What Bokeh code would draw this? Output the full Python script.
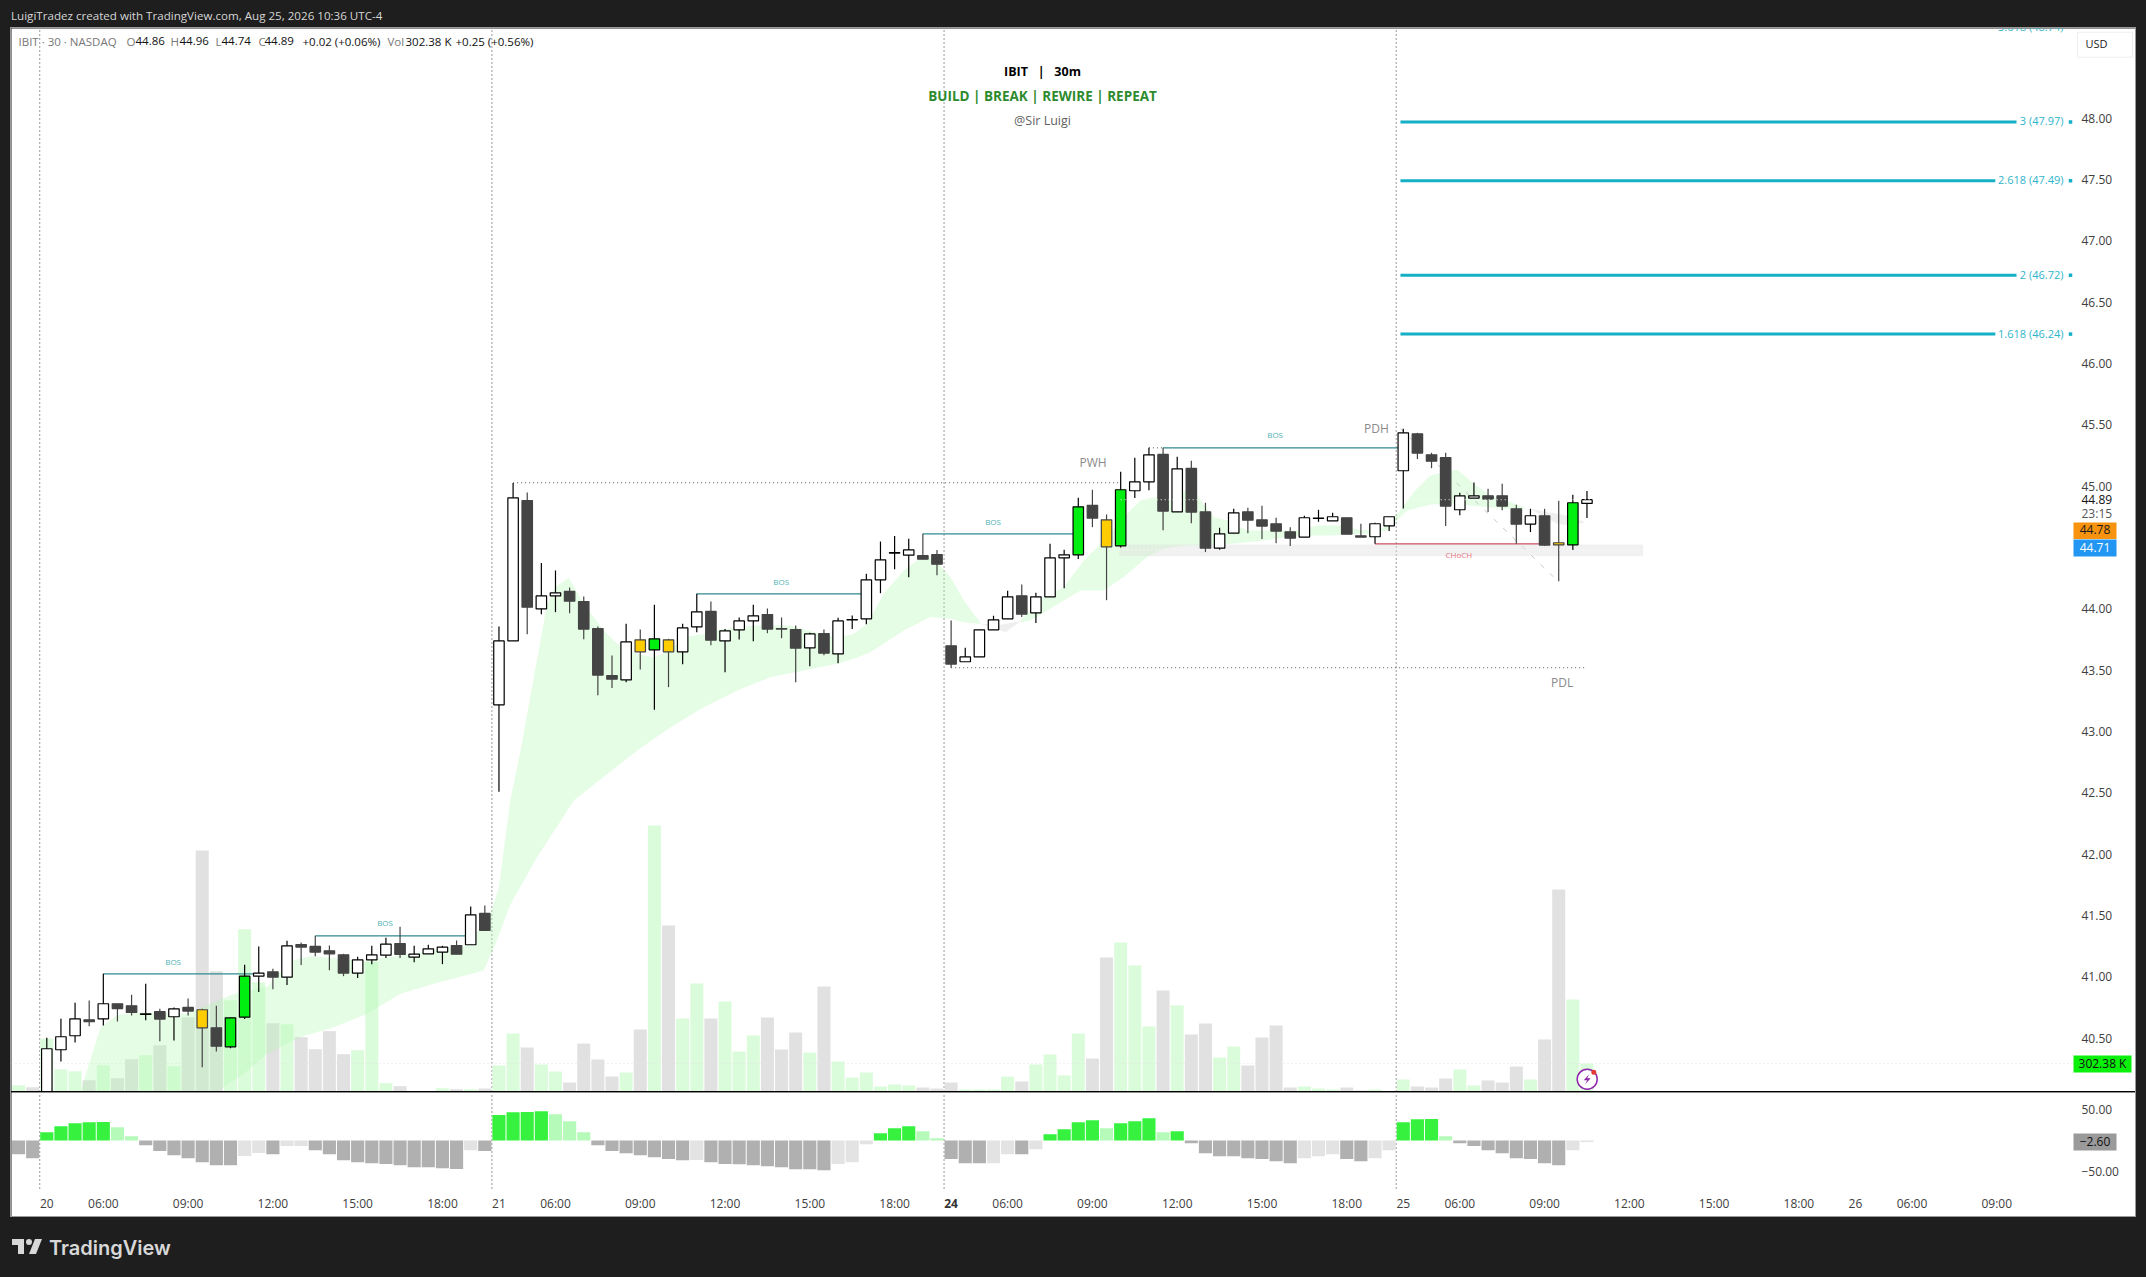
from bokeh.plotting import figure
from bokeh.layouts import column, row
from bokeh.models import ColumnDataSource, Range1d, FixedTicker, Div
from bokeh.core.properties import value
from bokeh.embed import file_html
from bokeh.resources import INLINE

FONT = "Open Sans"

# ---------------------------------------------------------------- data
bar_index = list(range(-2, 110))
opens = [39.6, 39.7, 39.85, 40.406, 40.520, 40.650, 40.658, 40.781, 40.764, 40.694, 40.718, 40.675, 40.751, 40.732,
         40.585, 40.430, 40.672, 41.006, 41.041, 40.998, 41.264, 41.248, 41.213, 41.180, 41.031, 41.139, 41.177, 41.272,
         41.161, 41.188, 41.202, 41.256, 41.262, 41.517,
         43.218, 43.739, 44.883, 44.000, 44.106, 44.142, 44.060, 43.840, 43.457, 43.421, 43.748, 43.666, 43.748, 43.650,
         43.854, 43.979, 43.739, 43.829, 43.902, 43.954, 43.840, 43.832, 43.682, 43.799, 43.633, 43.910, 43.919, 44.237,
         44.455, 44.438, 44.435, 44.443,
         43.699, 43.569, 43.609, 43.829, 43.919, 44.107, 43.968, 44.098, 44.416, 44.441, 44.843, 44.726, 44.514, 44.963,
         45.036, 45.259, 44.791, 45.145, 44.791, 44.495, 44.617, 44.791, 44.726, 44.694, 44.628, 44.585, 44.738, 44.718,
         44.743, 44.596, 44.588, 44.677,
         45.126, 45.427, 45.256, 45.234, 44.808, 44.903, 44.922, 44.922, 44.816, 44.691, 44.759, 44.539, 44.522, 44.86]
highs = [39.75, 39.75, 40.503, 40.658, 40.789, 40.808, 41.025, 40.781, 40.854, 40.944, 40.740, 40.751, 40.824, 40.740,
         40.764, 40.666, 41.098, 41.248, 41.066, 41.294, 41.281, 41.335, 41.256, 41.188, 41.164, 41.253, 41.319, 41.408,
         41.253, 41.262, 41.253, 41.297, 41.574, 41.582,
         43.856, 45.027, 44.949, 44.375, 44.313, 44.174, 44.101, 43.856, 43.620, 43.878, 43.832, 44.033, 43.756, 43.878,
         44.123, 44.060, 43.837, 43.930, 44.033, 44.003, 43.930, 43.864, 43.805, 43.832, 43.927, 43.946, 44.286, 44.549,
         44.595, 44.571, 44.612, 44.481,
         43.906, 43.683, 43.829, 43.944, 44.147, 44.199, 44.131, 44.531, 44.482, 44.906, 44.971, 44.770, 45.118, 45.232,
         45.313, 45.313, 45.240, 45.207, 44.865, 44.661, 44.816, 44.824, 44.840, 44.743, 44.666, 44.759, 44.808, 44.783,
         44.743, 44.694, 44.702, 44.751,
         45.468, 45.435, 45.272, 45.272, 44.946, 45.031, 44.979, 45.020, 44.849, 44.816, 44.816, 44.881, 44.930, 44.96]
lows = [39.5, 39.55, 39.8, 40.310, 40.465, 40.598, 40.604, 40.637, 40.685, 40.647, 40.476, 40.482, 40.685, 40.264,
        40.392, 40.419, 40.656, 40.876, 40.900, 40.933, 41.096, 41.169, 41.055, 41.006, 40.990, 41.104, 41.153, 41.153,
        41.120, 41.188, 41.104, 41.185, 41.262, 41.378,
        42.51, 43.739, 43.794, 43.957, 43.973, 43.965, 43.753, 43.296, 43.354, 43.402, 43.506, 43.177, 43.362, 43.549,
        43.810, 43.704, 43.484, 43.750, 43.737, 43.802, 43.761, 43.402, 43.533, 43.623, 43.557, 43.835, 43.875, 44.128,
        44.324, 44.258, 44.405, 44.275,
        43.520, 43.569, 43.609, 43.829, 43.919, 43.933, 43.884, 44.098, 44.169, 44.406, 44.666, 44.071, 44.501, 44.903,
        44.968, 44.642, 44.791, 44.699, 44.463, 44.479, 44.617, 44.617, 44.569, 44.536, 44.512, 44.585, 44.710, 44.718,
        44.609, 44.585, 44.531, 44.634,
        44.819, 45.221, 45.147, 44.675, 44.764, 44.903, 44.789, 44.805, 44.531, 44.626, 44.514, 44.226, 44.479, 44.74]
closes = [39.7, 39.6, 40.414, 40.512, 40.658, 40.636, 40.781, 40.742, 40.710, 40.699, 40.656, 40.740, 40.721, 40.585,
          40.435, 40.666, 41.006, 41.031, 40.998, 41.253, 41.243, 41.202, 41.188, 41.031, 41.139, 41.180, 41.267, 41.183,
          41.185, 41.229, 41.242, 41.185, 41.506, 41.378,
          43.739, 44.905, 44.014, 44.106, 44.131, 44.063, 43.835, 43.460, 43.427, 43.731, 43.650, 43.756, 43.650, 43.845,
          43.976, 43.745, 43.821, 43.902, 43.943, 43.835, 43.835, 43.680, 43.796, 43.639, 43.902, 43.913, 44.237, 44.400,
          44.458, 44.481, 44.405, 44.364,
          43.550, 43.609, 43.829, 43.911, 44.098, 43.957, 44.098, 44.416, 44.441, 44.832, 44.740, 44.506, 44.971, 45.036,
          45.256, 44.797, 45.142, 44.789, 44.495, 44.612, 44.783, 44.723, 44.675, 44.634, 44.577, 44.743, 44.740, 44.751,
          44.609, 44.585, 44.694, 44.751,
          45.435, 45.270, 45.204, 44.838, 44.922, 44.922, 44.895, 44.838, 44.691, 44.759, 44.520, 44.522, 44.865, 44.89]
green_bars = [13, 14, 43, 73, 76, 108]
yellow_bars = [11, 42, 44, 75, 107]

volumes_k = [68, 47, 569, 241, 220, 122, 284, 144, 349, 392, 500, 274, 803, 2603, 1300, 986, 1753, 1181, 738, 727, 587,
             457, 652, 403, 446, 1397, 90, 58, 4, 4, 36, 25, 25, 32,
             281, 626, 475, 292, 216, 97, 518, 346, 162, 205, 670, 2873, 1793, 788, 1166, 788, 972, 432, 605, 799, 454,
             637, 421, 1134, 324, 151, 205, 54, 76, 65, 43, 32,
             97, 22, 22, 22, 162, 108, 292, 400, 173, 626, 356, 1447, 1609, 1361, 702, 1091, 929, 616, 734, 367, 486,
             281, 583, 713, 43, 54, 32, 22, 43, 11, 22, 4,
             130, 54, 43, 140, 238, 65, 119, 97, 270, 130, 562, 2182, 994, 302.38]

hist_values = [-22, -28.5, 13.4, 23, 28, 29.6, 29.7, 21.5, 7, -7.5, -17, -23.7, -28.5, -35, -39.8, -39.9, -25, -20, -22,
               -9, -8.9, -15.6, -22, -31.7, -35, -36.6, -38, -39.8, -43, -43.1, -44.6, -46, -15.6, -17,
               41, 45.7, 45.8, 47.3, 42.5, 31, 13.4, -7.5, -17, -20.4, -23.7, -26.9, -30, -31.7, -31.6, -35, -38, -38.2,
               -39.8, -41.4, -43, -46.2, -46.3, -47.8, -38, -35, -6, 11.8, 19.9, 23, 15, 3.8,
               -30, -36.6, -36.7, -36.6, -22, -22.1, -14, 10.2, 18.3, 29.6, 32.8, 19.9, 28, 31.2, 36, 13.4, 15, -4.3,
               -20.4, -25.3, -25.4, -28.5, -30, -33.3, -36.6, -28.5, -25.3, -22, -30, -33.3, -28.5, -15.6,
               29.6, 34.4, 34.5, 7, -4.3, -9, -15.6, -20.4, -28.5, -30, -36.6, -39.8, -15.6, -2.6]

cloud_up_x = [2.38, 3.8, 4.98, 6.63, 9.93, 13.23, 15.59, 17.24, 18.66, 22.43, 27.4, 29.74, 31.4, 32, 32.8, 33.53, 35.41,
              35.96, 36.95, 38.0, 39.42, 40.37, 41.78, 42.96, 43.9, 45.08, 46.5, 47.9, 50.04, 52.63, 54.75, 55.93, 57.11,
              58.06, 59.24, 60.65, 62.07, 63.0, 63.95, 64.9, 65.96, 66.08]
cloud_up_p = [40.063, 40.59, 40.69, 40.71, 40.70, 40.86, 40.92, 41.13, 41.17, 41.13, 41.215, 41.256, 41.514, 41.73,
              42.438, 42.845, 44.04, 44.177, 44.253, 44.04, 43.824, 43.715, 43.633, 43.606, 43.647, 43.769, 43.796,
              43.837, 43.864, 43.864, 43.796, 43.769, 43.796, 43.878, 44.123, 44.313, 44.435, 44.38, 44.259, 44.069,
              43.906, 43.878]
cloud_lo_x = [12.05, 13.94, 15.59, 17.95, 20.31, 22.67, 25.03, 27.4, 30.92, 31.76, 32.82, 34.7, 37.3, 41.78, 44.14, 46.5,
              48.86, 51.22, 53.58, 55.93, 57.11, 58.29, 60.65, 62.54, 63.95, 64.9, 65.96, 66.08]
cloud_lo_p = [40.063, 40.21, 40.373, 40.509, 40.59, 40.699, 40.862, 40.944, 41.052, 41.27, 41.595, 41.975, 42.438, 42.845,
              43.036, 43.199, 43.334, 43.443, 43.498, 43.552, 43.593, 43.647, 43.824, 43.933, 43.919, 43.892, 43.878,
              43.878]
cloud2_up_x = [68.91, 69.6, 70.56, 71.97, 73.39, 74.8, 76.22, 77.4, 78.34, 79.52, 80.94, 82.59, 83.53, 84.95, 86.83,
               88.48, 89.9, 91.31, 93.2, 94.62, 95.56, 96.75, 97.93, 99.81, 100.99, 102.17, 103.35, 104.77]
cloud2_up_p = [43.906, 43.987, 44.096, 44.177, 44.395, 44.558, 44.748, 44.884, 44.911, 44.884, 44.993, 44.748, 44.721,
               44.639, 44.639, 44.639, 44.68, 44.68, 44.639, 44.666, 44.775, 44.952, 45.088, 45.137, 45.02, 44.925,
               44.884, 44.816]
cloud2_lo_x = [68.91, 69.6, 70.8, 71.97, 73.15, 74.8, 76.22, 77.87, 79.05, 80.47, 82.59, 84.95, 86.13, 88.48, 90.84, 93.2,
               94.85, 95.56, 96.28, 97.93, 99.58, 101.47, 103.35, 104.77]
cloud2_lo_p = [43.892, 43.906, 43.987, 44.069, 44.15, 44.15, 44.259, 44.422, 44.49, 44.517, 44.517, 44.544, 44.558, 44.598,
               44.598, 44.612, 44.639, 44.721, 44.802, 44.85, 44.857, 44.835, 44.816, 44.816]
grey_cloud_x = [[66.08, 67.5, 68.91, 67.85], [105.0, 106.2, 107.6, 108.9, 107.83, 106.9, 105.95]]
grey_cloud_p = [[43.878, 43.87, 43.9, 43.81], [44.816, 44.789, 44.762, 44.707, 44.68, 44.694, 44.748]]

session_bars = [-0.5, 31.5, 63.5, 95.5]

bos_x0 = [4, 19, 46, 62, 79]
bos_x1 = [15, 30, 58, 73, 96]
bos_p = [41.025, 41.335, 44.123, 44.612, 45.313]
bos_label_x = [8.94, 23.94, 51.97, 66.97, 86.93]
bos_label_p = [41.12, 41.433, 44.218, 44.707, 45.411]

fib_levels = ["3.618", "3", "2.618", "2", "1.618"]
fib_prices = [48.74, 47.97, 47.49, 46.72, 46.24]
fib_x1 = [139.4, 137.9, 139.4, 137.9]
fib_x0 = 95.8

level_names = ["PWH", "PDH", "PDL"]
level_x = [74.05, 94.1, 107.24]
level_p = [45.183, 45.465, 43.39]
pwh_price, pdl_price = 45.028, 43.52
zone_low, zone_high = 44.43, 44.525
last_price = 44.89
choch_price = 44.53

price_ticks = [40.5, 41.0, 41.5, 42.0, 42.5, 43.0, 43.5, 44.0, 45.0, 45.5, 46.0, 46.5, 47.0, 47.5, 48.0]
hist_ticks = [50, -50]
time_ticks = {0: "20", 4: "06:00", 10: "09:00", 16: "12:00", 22: "15:00", 28: "18:00", 32: "21", 36: "06:00",
              42: "09:00", 48: "12:00", 54: "15:00", 60: "18:00", 68: "06:00", 74: "09:00", 80: "12:00",
              86: "15:00", 92: "18:00", 96: "25", 100: "06:00", 106: "09:00", 112: "12:00", 118: "15:00",
              124: "18:00", 128: "26", 132: "06:00", 138: "09:00"}

# ---------------------------------------------------------------- scales: page pixels <-> data for annotations
def PX(px):
    return (px - 46.3) / 14.13
def PY(py):
    return 48 - (py - 117.7) / 122.67
def HY(py):
    return (1140.0 - py) / 0.62
def VOLY(py):
    return (1091.0 - py) * 10.8

XR = (PX(11), PX(2135))
GREEN, YELLOW, DARK = "#00ee10", "#ffcc00", "#444444"

# ---------------------------------------------------------------- candle styling
fill, edge, wick, vol_col = [], [], [], []
for i, o, c in zip(bar_index, opens, closes):
    if i in green_bars:
        fill.append(GREEN); edge.append("#000000"); wick.append("#000000")
    elif i in yellow_bars:
        fill.append(YELLOW); edge.append(DARK); wick.append(DARK)
    elif c >= o:
        fill.append("#ffffff"); edge.append("#000000"); wick.append("#000000")
    else:
        fill.append(DARK); edge.append(DARK); wick.append(DARK)
    vol_col.append("#dbfcdb" if c >= o else "#e1e1e1")

hist_col = []
prev = hist_values[0]
for v in hist_values:
    if v >= 0:
        hist_col.append("#36f23f" if v >= prev else "#b6fab9")
    else:
        hist_col.append("#b0b0b0" if v <= prev else "#e3e3e3")
    prev = v

src = ColumnDataSource(dict(x=bar_index, o=opens, h=highs, l=lows, c=closes, top=[max(a, b) for a, b in zip(opens, closes)],
                            bot=[min(a, b) for a, b in zip(opens, closes)], fill=fill, edge=edge, wick=wick,
                            vol=volumes_k, vc=vol_col, hv=hist_values, hc=hist_col))

def style_axis(a, standoff):
    a.axis_line_color = None
    a.major_tick_line_color = None
    a.minor_tick_line_color = None
    a.major_tick_in = 0
    a.major_tick_out = 0
    a.major_label_standoff = standoff
    a.major_label_text_font = FONT
    a.major_label_text_font_size = "12px"
    a.major_label_text_color = "#404040"

# ---------------------------------------------------------------- main pane
p = figure(width=2124, height=1063, frame_width=2124, frame_height=1063, output_backend="svg", toolbar_location=None,
           x_axis_location=None, y_axis_location="right", x_range=Range1d(*XR), y_range=Range1d(PY(1091), PY(28)),
           min_border_left=0, min_border_right=0, min_border_top=0, min_border_bottom=0,
           background_fill_color="#ffffff", border_fill_color="#ffffff", outline_line_color=None, margin=0)
p.grid.visible = False
p.extra_y_ranges = {"vol": Range1d(0, VOLY(28))}
ax = p.yaxis[0]
ax.ticker = FixedTicker(ticks=price_ticks)
ax.major_label_overrides = {t: f"{t:.2f}" for t in price_ticks}
style_axis(ax, -54)

DOT = "1 3"
p.segment(session_bars, PY(1091), session_bars, PY(28), line_color="#333333", line_dash=DOT, line_width=1)
p.vbar(x="x", width=0.92, bottom=0, top="vol", fill_color="vc", line_color=None, source=src, y_range_name="vol")
p.line([XR[0], PX(2072)], [volumes_k[-1], volumes_k[-1]], line_color="#e4e4e4", line_dash=DOT, y_range_name="vol")

p.patch(cloud_up_x + cloud_lo_x[::-1], cloud_up_p + cloud_lo_p[::-1], fill_color="#b4f8b4", fill_alpha=0.35, line_color=None)
p.patch(cloud2_up_x + cloud2_lo_x[::-1], cloud2_up_p + cloud2_lo_p[::-1], fill_color="#b4f8b4", fill_alpha=0.35, line_color=None)
p.patches(grey_cloud_x, grey_cloud_p, fill_color="#d8d8d8", fill_alpha=0.4, line_color=None)

p.segment([PX(1400)], [45.47], [106.77], [44.245], line_color="#c8c8c8", line_dash="5 8", line_width=1)
p.quad(left=[75.9], right=[112.97], bottom=[zone_low], top=[zone_high], fill_color="#dddddd", fill_alpha=0.4, line_color=None)

p.segment([33, 64, 78], [pwh_price, pdl_price, bos_p[-1]], [76, 108.8, 79], [pwh_price, pdl_price, bos_p[-1]],
          line_color="#555555", line_dash=DOT, line_width=1)
p.segment(bos_x0, bos_p, bos_x1, bos_p, line_color="#2f8a8f", line_width=1.2)
p.segment([94], [choch_price], [106], [choch_price], line_color="#c9505f", line_width=1.2)

p.segment("x", "h", "x", "l", line_color="wick", line_width=1.2, source=src)
p.vbar(x="x", width=0.74, bottom="bot", top="top", fill_color="fill", line_color="edge", line_width=1.2, source=src)

p.segment([76], [last_price], [110], [last_price], line_color="#ffffff", line_dash=DOT, line_width=1)
p.segment([75.9], [44.48], [112.97], [44.48], line_color="#ffffff", line_dash=DOT, line_width=1)

small = dict(text_font=value(FONT), text_baseline="middle", y_offset=-1)
p.text(bos_label_x, bos_label_p, text=["BOS"] * 5, text_font_size="8px", text_color="#4fb1b3", text_align="center", **small)
p.text([99.93], [44.433], text=["CHoCH"], text_font_size="8px", text_color="#e5737f", text_align="center", **small)
p.text(level_x, level_p, text=level_names, text_font_size="12px", text_color="#8a8a8a", text_align="center", **small)

fib_text = [f"{a} ({b:.2f})" for a, b in zip(fib_levels, fib_prices)]
p.segment([fib_x0] * 4, fib_prices[1:], fib_x1, fib_prices[1:], line_color="#14b0c6", line_width=3)
p.text([PX(2063)] * 5, fib_prices, text=fib_text, text_font_size="11px", text_color="#2fb5cb", text_align="right", **small)
p.scatter([PX(2070)] * 4, fib_prices[1:], marker="square", size=3.5, fill_color="#14b0c6", line_color=None)

# lightning badge at the last bar of the volume pane
p.scatter([PX(1586.7)], [VOLY(1078.7)], size=20, fill_color="#ffffff", line_color="#8e24aa", line_width=1.5, y_range_name="vol")
bolt = [(2, -5), (-3.5, 1), (0, 1), (-2, 5), (3.5, -1), (0, -1)]
p.patch([PX(1586.7 + a) for a, b in bolt], [VOLY(1078.7 + b) for a, b in bolt], fill_color="#8e24aa", line_color=None, y_range_name="vol")
p.scatter([PX(1593.3)], [VOLY(1071.7)], size=5, fill_color="#e53935", line_color=None, y_range_name="vol")

# centred heading
p.text([PX(1042)], [PY(72)], text=["IBIT\u00a0\u00a0\u00a0|\u00a0\u00a0\u00a030m"], text_font_size="12.5px",
       text_color="#000000", text_font_style="bold", text_align="center", **small)
p.text([PX(1042)], [PY(96)], text=["BUILD | BREAK | REWIRE | REPEAT"], text_font_size="13.5px",
       text_color="#2e8b2e", text_font_style="bold", text_align="center", **small)
p.text([PX(1042)], [PY(120.7)], text=["@Sir Luigi"], text_font_size="12.5px",
       text_color="#5f5f5f", text_align="center", **small)

# legend line
legend_x = [18, 126, 135, 170, 179, 215, 221, 258, 264, 302, 387, 405, 455]
legend_text = ["IBIT · 30 · NASDAQ", "O", "44.86", "H", "44.96", "L", "44.74", "C", "44.89", "+0.02 (+0.06%)", "Vol", "302.38 K", "+0.25 (+0.56%)"]
legend_col = ["#777777", "#777777", "#111111", "#777777", "#111111", "#777777", "#111111", "#777777", "#111111", "#111111", "#777777", "#111111", "#111111"]
p.text([PX(v) for v in legend_x], [PY(41.5)] * len(legend_x), text=legend_text, text_font_size="11.5px", text_color=legend_col,
       text_align="left", **small)

def tag(fig, x0, x1, y0, y1, text, color, bg, tx=None, line=None, size="12px", align="center"):
    fig.quad(left=[PX(x0)], right=[PX(x1)], bottom=[y1], top=[y0], fill_color=bg, line_color=line)
    fig.text([PX(tx if tx else (x0 + x1) / 2)], [(y0 + y1) / 2], text=[text], text_color=color, text_font=value(FONT),
             text_font_size=size, text_align=align, text_baseline="middle", y_offset=-1)

p.text([PX(2081)] * 2, [PY(499.7), PY(513.7)], text=["44.89", "23:15"], text_color=["#111111", "#555555"],
       text_font_size="12px", text_align="left", **small)
tag(p, 2073, 2116, PY(522), PY(538.5), "44.78", "#1a1a1a", "#f7930e")
tag(p, 2073, 2116, PY(539), PY(556), "44.71", "#ffffff", "#2196f3")
tag(p, 2077, 2132, PY(31.7), PY(56.7), "USD", "#222222", "#ffffff", tx=2085, line="#eeeeee", size="11px", align="left")
tag(p, 2073, 2131, PY(1055), PY(1072), "302.38 K", "#111111", "#0bf00b")

# ---------------------------------------------------------------- histogram pane
h = figure(width=2124, height=124, frame_width=2124, frame_height=124, output_backend="svg", toolbar_location=None,
           y_axis_location="right", x_range=Range1d(*XR), y_range=Range1d(HY(1216), HY(1092)),
           min_border_left=0, min_border_right=0, min_border_top=0, min_border_bottom=0,
           background_fill_color="#ffffff", border_fill_color="#ffffff", outline_line_color=None, margin=0)
h.grid.visible = False
hy = h.yaxis[0]
hy.ticker = FixedTicker(ticks=hist_ticks)
hy.major_label_overrides = {50: "50.00", -50: "\u221250.00"}
style_axis(hy, -54)
hx = h.xaxis[0]
hx.ticker = FixedTicker(ticks=list(time_ticks))
hx.major_label_overrides = time_ticks
style_axis(hx, -22)

h.segment(session_bars, HY(1188), session_bars, HY(1092), line_color="#333333", line_dash=DOT, line_width=1)
h.vbar(x="x", width=0.93, bottom=0, top="hv", fill_color="hc", line_color=None, source=src)
h.text([64], [HY(1202.7)], text=["24"], text_color="#333333", text_font=value(FONT), text_font_size="12px",
       text_font_style="bold", text_align="center", text_baseline="middle")
tag(h, 2073, 2116, HY(1133), HY(1150), "\u22122.60", "#111111", "#9a9a9a")

# ---------------------------------------------------------------- page chrome
def strip(w, hgt, bg):
    return Div(text="", width=w, height=hgt, margin=0, styles={"background": bg})

header = Div(text='<div style="color:#d6d6d6;font:11.6px \'Open Sans\';line-height:12px;padding:0 0 0 3px;margin-top:-1px;white-space:nowrap">'
                  'LuigiTradez created with TradingView.com, Aug 25, 2026 10:36 UTC-4</div>',
             width=2130, height=19, margin=0)
top_rule = strip(2130, 1, "linear-gradient(to right,#1e1e1e 2px,#9a9a9a 2px,#9a9a9a 2128px,#1e1e1e 2128px)")
bot_rule = strip(2130, 1, "linear-gradient(to right,#1e1e1e 2px,#9a9a9a 2px,#9a9a9a 2128px,#1e1e1e 2128px)")
sep = strip(2124, 1, "#000000")
footer = Div(text='<div style="position:relative;width:300px;height:52px">'
                  '<svg style="position:absolute;left:2px;top:16px" width="36" height="28" viewBox="0 0 36 28">'
                  '<path fill="#d8d8d8" d="M14 6H2v6h6v9h6V6Zm12 15h-7l6-15h7l-6 15Zm-7-9a3 3 0 1 0 0-6 3 3 0 0 0 0 6Z"/></svg>'
                  '<div style="position:absolute;left:41px;top:18px;color:#d8d8d8;font:600 20px Inter;line-height:26px">TradingView</div></div>',
             width=2130, height=52, margin=0)
body = row(strip(2, 1188, "#1e1e1e"), strip(1, 1188, "#9a9a9a"),
           column(p, sep, h, spacing=0, margin=0),
           strip(1, 1188, "#9a9a9a"), strip(2, 1188, "#1e1e1e"), spacing=0, margin=0)
page = column(header, top_rule, body, bot_rule, footer, spacing=0, margin=(8, 0, 0, 8))

html = file_html(page, INLINE)
html = html.replace("<head>", "<head><style>html,body{background:#1e1e1e;overflow:hidden}</style>", 1)
open("out.html", "w").write(html)
